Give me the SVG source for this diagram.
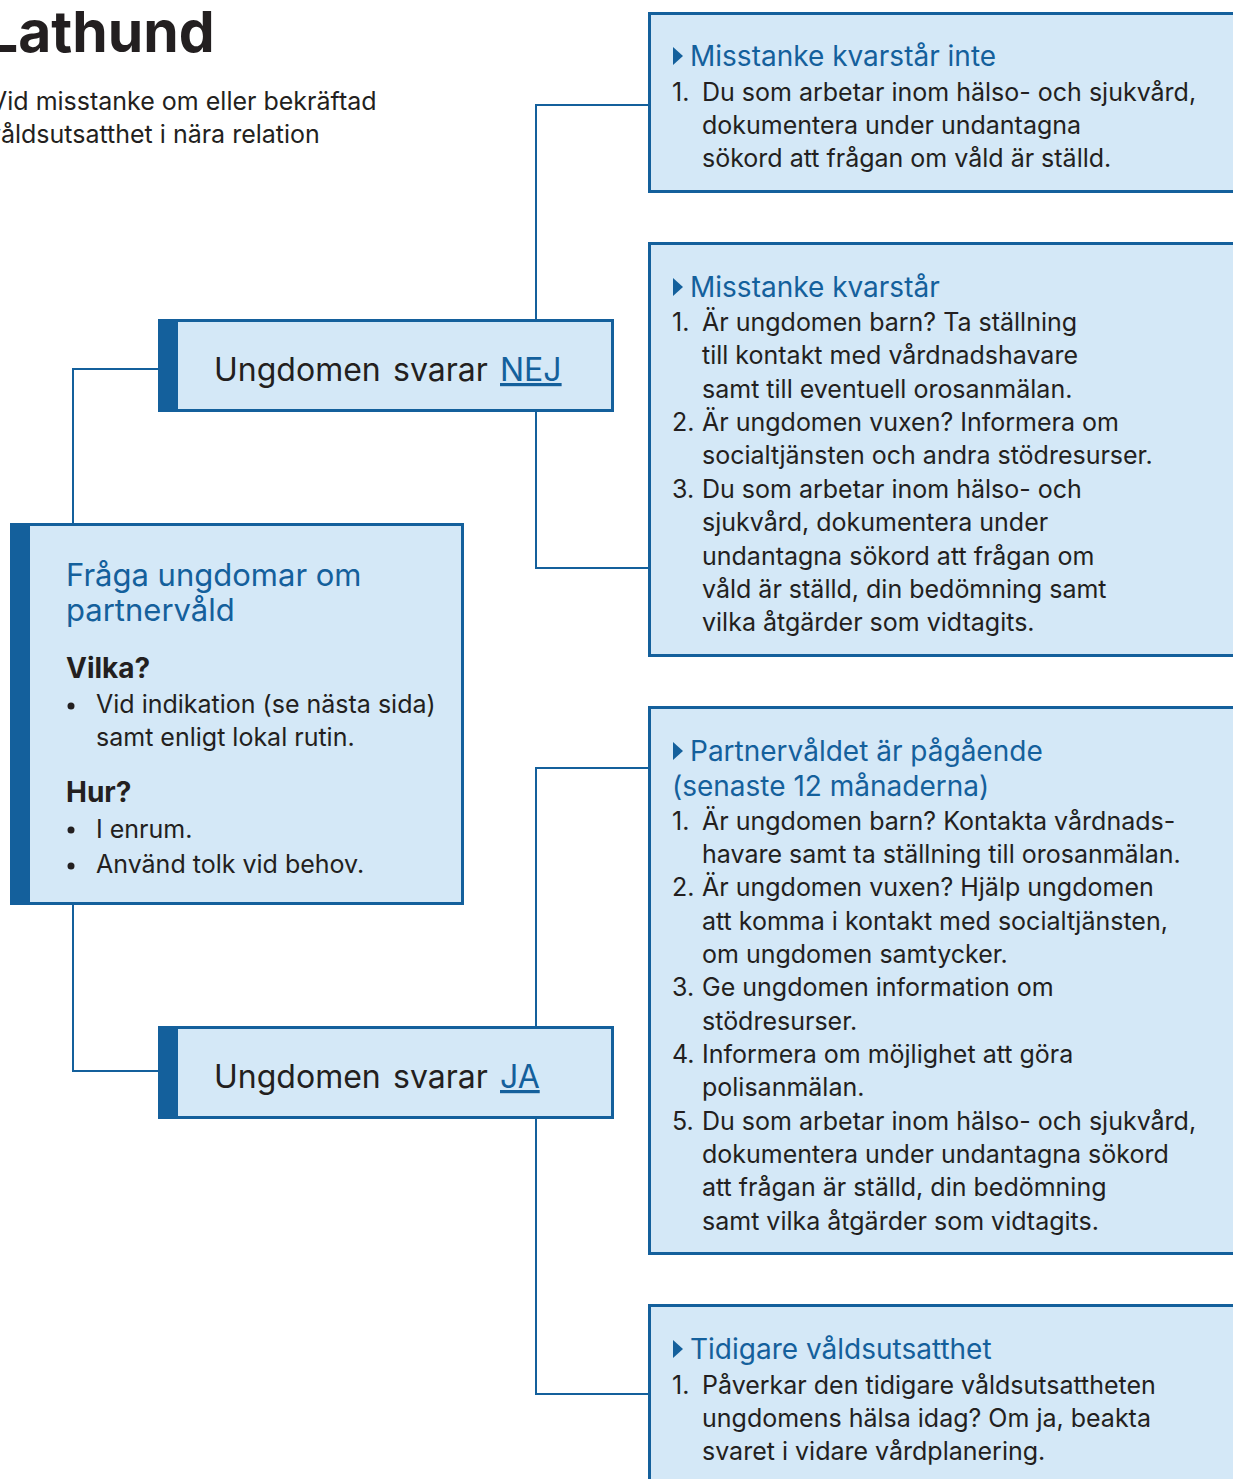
<svg xmlns="http://www.w3.org/2000/svg" width="1233" height="1479" viewBox="0 0 1233 1479">
<defs>
<style>
text{font-family:Inter,"Noto Sans","Liberation Sans",sans-serif;fill:#231f20}
.box{fill:#d4e8f7;stroke:#14609c;stroke-width:3}
.bar{fill:#14609c}
.conn{fill:none;stroke:#14609c;stroke-width:2}
.h{fill:#14609c;font-size:28px}
.t{font-size:25px}
.tri{fill:#14609c}
.lbl{font-size:32px}
.u{fill:#14609c;text-decoration:underline}
</style>
</defs>
<rect width="1233" height="1479" fill="#fff"/>
<g id="title">
<text x="-14" y="52" style="font-size:57px;font-weight:700">Lathund</text>
<text x="-10" y="110" class="t">Vid misstanke om eller bekräftad</text>
<text x="-13" y="143" class="t">våldsutsatthet i nära relation</text>
</g>
<g id="connectors">
<path class="conn" d="M158 369H73V523"/>
<path class="conn" d="M73 905V1071H158"/>
<path class="conn" d="M536 319V105H648"/>
<path class="conn" d="M536 412V568H648"/>
<path class="conn" d="M536 1026V768H648"/>
<path class="conn" d="M536 1119V1394H648"/>
</g>
<g id="nej">
<rect class="box" x="159.5" y="320.5" width="453" height="90"/>
<rect class="bar" x="158" y="319" width="20" height="93"/>
<text y="381" class="lbl"><tspan x="214">Ungdomen</tspan><tspan x="393">svarar</tspan><tspan x="500" class="u">NEJ</tspan></text>
</g>
<g id="ja">
<rect class="box" x="159.5" y="1027.5" width="453" height="90"/>
<rect class="bar" x="158" y="1026" width="20" height="93"/>
<text y="1088" class="lbl"><tspan x="214">Ungdomen</tspan><tspan x="393">svarar</tspan><tspan x="500" class="u">JA</tspan></text>
</g>
<g id="main">
<rect class="box" x="11.5" y="524.5" width="451" height="379"/>
<rect class="bar" x="10" y="523" width="20" height="382"/>
<text x="66" y="586" style="font-size:31px;fill:#14609c">Fråga ungdomar om</text>
<text x="66" y="621" style="font-size:31px;fill:#14609c">partnervåld</text>
<text x="66" y="678" style="font-size:28px;font-weight:700">Vilka?</text>
<circle cx="71" cy="706" r="3.5" fill="#231f20"/>
<text x="96" y="713" class="t">Vid indikation (se nästa sida)</text>
<text x="96" y="746" class="t">samt enligt lokal rutin.</text>
<text x="66" y="802" style="font-size:28px;font-weight:700">Hur?</text>
<circle cx="71" cy="830" r="3.5" fill="#231f20"/>
<text x="96" y="838" class="t">I enrum.</text>
<circle cx="71" cy="866" r="3.5" fill="#231f20"/>
<text x="96" y="873" class="t">Använd tolk vid behov.</text>
</g>
<g id="box1">
<rect class="box" x="649.5" y="13.5" width="600" height="178"/>
<path class="tri" d="M673 47L683 56L673 65Z"/>
<text x="690" y="66" class="h">Misstanke kvarstår inte</text>
<text x="672" y="101" class="t">1.</text>
<text x="702" y="101" class="t">Du som arbetar inom hälso- och sjukvård,</text>
<text x="702" y="134" class="t">dokumentera under undantagna</text>
<text x="702" y="167" class="t">sökord att frågan om våld är ställd.</text>
</g>
<g id="box2">
<rect class="box" x="649.5" y="243.5" width="600" height="412"/>
<path class="tri" d="M673 278L683 287L673 296Z"/>
<text x="690" y="297" class="h">Misstanke kvarstår</text>
<text x="672" y="331" class="t">1.</text>
<text x="702" y="331" class="t">Är ungdomen barn? Ta ställning</text>
<text x="702" y="364" class="t">till kontakt med vårdnadshavare</text>
<text x="702" y="398" class="t">samt till eventuell orosanmälan.</text>
<text x="672" y="431" class="t">2.</text>
<text x="702" y="431" class="t">Är ungdomen vuxen? Informera om</text>
<text x="702" y="464" class="t">socialtjänsten och andra stödresurser.</text>
<text x="672" y="498" class="t">3.</text>
<text x="702" y="498" class="t">Du som arbetar inom hälso- och</text>
<text x="702" y="531" class="t">sjukvård, dokumentera under</text>
<text x="702" y="565" class="t">undantagna sökord att frågan om</text>
<text x="702" y="598" class="t">våld är ställd, din bedömning samt</text>
<text x="702" y="631" class="t">vilka åtgärder som vidtagits.</text>
</g>
<g id="box3">
<rect class="box" x="649.5" y="707.5" width="600" height="546"/>
<path class="tri" d="M673 742L683 751L673 760Z"/>
<text x="690" y="761" class="h">Partnervåldet är pågående</text>
<text x="672" y="796" class="h">(senaste 12 månaderna)</text>
<text x="672" y="830" class="t">1.</text>
<text x="702" y="830" class="t">Är ungdomen barn? Kontakta vårdnads-</text>
<text x="702" y="863" class="t">havare samt ta ställning till orosanmälan.</text>
<text x="672" y="896" class="t">2.</text>
<text x="702" y="896" class="t">Är ungdomen vuxen? Hjälp ungdomen</text>
<text x="702" y="930" class="t">att komma i kontakt med socialtjänsten,</text>
<text x="702" y="963" class="t">om ungdomen samtycker.</text>
<text x="672" y="996" class="t">3.</text>
<text x="702" y="996" class="t">Ge ungdomen information om</text>
<text x="702" y="1030" class="t">stödresurser.</text>
<text x="672" y="1063" class="t">4.</text>
<text x="702" y="1063" class="t">Informera om möjlighet att göra</text>
<text x="702" y="1096" class="t">polisanmälan.</text>
<text x="672" y="1130" class="t">5.</text>
<text x="702" y="1130" class="t">Du som arbetar inom hälso- och sjukvård,</text>
<text x="702" y="1163" class="t">dokumentera under undantagna sökord</text>
<text x="702" y="1196" class="t">att frågan är ställd, din bedömning</text>
<text x="702" y="1230" class="t">samt vilka åtgärder som vidtagits.</text>
</g>
<g id="box4">
<rect class="box" x="649.5" y="1305.5" width="600" height="200"/>
<path class="tri" d="M673 1340L683 1349L673 1358Z"/>
<text x="690" y="1359" class="h">Tidigare våldsutsatthet</text>
<text x="672" y="1394" class="t">1.</text>
<text x="702" y="1394" class="t">Påverkar den tidigare våldsutsattheten</text>
<text x="702" y="1427" class="t">ungdomens hälsa idag? Om ja, beakta</text>
<text x="702" y="1460" class="t">svaret i vidare vårdplanering.</text>
</g>
</svg>
